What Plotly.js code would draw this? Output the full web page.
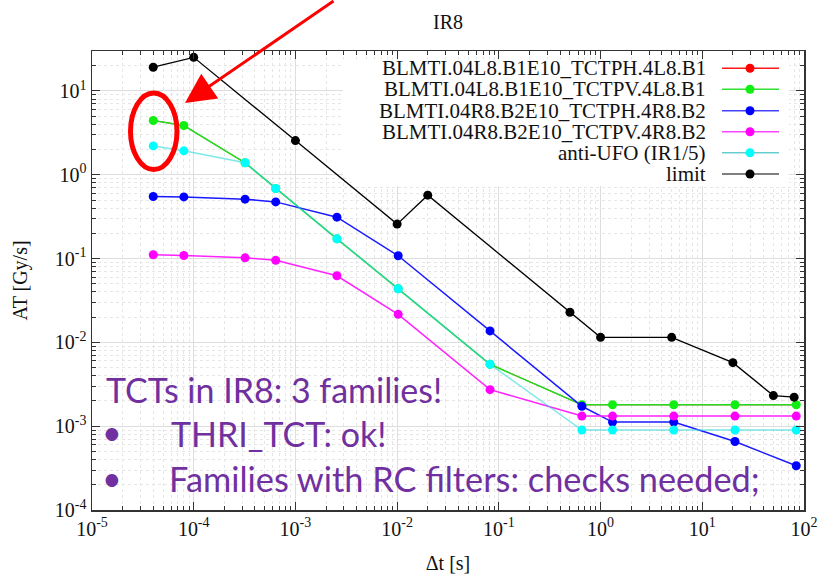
<!DOCTYPE html>
<html>
<head>
<meta charset="utf-8">
<script src="https://cdn.plot.ly/plotly-3.0.1.min.js"></script>
<style>html,body{margin:0;padding:0;background:#fff;}#chart{width:822px;height:574px;}</style>
</head>
<body>
<div id="chart"></div>
<script>
// ---- data ----
const tRS = [4e-5, 8e-5, 3.2e-4, 6.4e-4, 2.56e-3, 1.024e-2, 8.192e-2, 0.65536, 1.31072, 5.24288, 20.97152, 83.88608];
const tctph4L8 = [4.44, 3.87, 1.39, 0.687, 0.172, 0.0436, 0.00548, 0.0018, 0.0018, 0.0018, 0.0018, 0.0018];
const tctpv4L8 = [4.44, 3.87, 1.39, 0.687, 0.172, 0.0436, 0.00548, 0.0018, 0.0018, 0.0018, 0.0018, 0.0018];
const tctph4R8 = [0.551, 0.545, 0.512, 0.475, 0.312, 0.108, 0.0137, 0.00173, 0.00112, 0.00112, 0.000656, 0.000337];
const tctpv4R8 = [0.111, 0.109, 0.102, 0.0953, 0.0624, 0.0216, 0.00273, 0.00132, 0.00132, 0.00132, 0.00132, 0.00132];
const antiUFO  = [2.21, 1.93, 1.39, 0.687, 0.172, 0.0436, 0.00548, 0.0009, 0.0009, 0.0009, 0.0009, 0.0009];
const tLimit   = [4e-5, 1e-4, 1e-3, 1e-2, 2e-2, 0.5, 1, 5, 20, 50, 80];
const limitVal = [19.2, 25.2, 2.56, 0.258, 0.571, 0.0229, 0.0115, 0.0115, 0.00573, 0.00232, 0.00222];

const seriesNames = ['BLMTI.04L8.B1E10_TCTPH.4L8.B1','BLMTI.04L8.B1E10_TCTPV.4L8.B1','BLMTI.04R8.B2E10_TCTPH.4R8.B2','BLMTI.04R8.B2E10_TCTPV.4R8.B2','anti-UFO (IR1/5)','limit'];
const xTickVals = [1e-5,1e-4,1e-3,1e-2,1e-1,1e0,1e1,1e2];
const xTickText = ['10<sup>-5</sup>','10<sup>-4</sup>','10<sup>-3</sup>','10<sup>-2</sup>','10<sup>-1</sup>','10<sup>0</sup>','10<sup>1</sup>','10<sup>2</sup>'];
const yTickVals = [1e-4,1e-3,1e-2,1e-1,1e0,1e1];
const yTickText = ['10<sup>-4</sup>','10<sup>-3</sup>','10<sup>-2</sup>','10<sup>-1</sup>','10<sup>0</sup>','10<sup>1</sup>'];
const noteLines = ['TCTs in IR8: 3 families!','THRI_TCT: ok!','Families with RC filters: checks needed;'];

// ---- styles ----
const lineColors   = ['#ff0000','#22dd22','#1a1aff','#ff22ff','rgba(40,215,215,0.6)','#000000'];
const markerColors = ['#ff0000','#11ee11','#0000ff','#ff00ff','#00ffff','#000000'];
const legendLineColors = ['#ff1a1a','#33e033','#4444ff','#ff44ff','#66cccc','#555555'];

function minorVals(lo, hi){ const v=[]; for(let d=lo; d<=hi; d++){ for(let m=2;m<=9;m++){ v.push(m*Math.pow(10,d)); } } return v; }

const ys = [tctph4L8, tctpv4L8, tctph4R8, tctpv4R8, antiUFO];
const traces = ys.map((y,i)=>({
  x: tRS, y: y, type:'scatter', mode:'lines+markers', name: seriesNames[i],
  line:{color: lineColors[i], width: i===0?1:1.5},
  marker:{color: markerColors[i], size: i===0?7:9},
  showlegend:false
}));
traces.push({x:tLimit, y:limitVal, type:'scatter', mode:'lines+markers', name:seriesNames[5],
  line:{color:'#000', width:1.3}, marker:{color:'#000', size:9}, showlegend:false});

const L=92, R=804, T=51, B=510;
const px = v => (v-L)/(R-L);
const py = v => (B-v)/(B-T);

const serif = 'Liberation Serif';
const axisCommon = {
  type:'log', showline:true, linecolor:'#333', linewidth:1.5, mirror:'allticks',
  ticks:'inside', ticklen:8, tickwidth:1, tickcolor:'#333',
  showgrid:true, gridcolor:'#dedede', gridwidth:1, zeroline:false,
  tickfont:{family:serif, size:20, color:'#111'}, tickmode:'array'
};
const minorCommon = {tickmode:'array', ticks:'inside', ticklen:4, tickwidth:1, tickcolor:'#333', showgrid:true, gridcolor:'#e6e6e6', griddash:'dot', gridwidth:1};

const shapes = [];
const annotations = [];
// legend background (covers grid, below the top ticks, clear of the limit line)
const bgPath = 'M ' + px(356) + ',' + py(186) + ' L ' + px(789) + ',' + py(186) + ' L ' + px(789) + ',' + py(59.5) +
               ' L ' + px(343) + ',' + py(59.5) + ' L ' + px(343) + ',' + py(175) + ' Z';
shapes.push({type:'path', xref:'paper', yref:'paper', path:bgPath, fillcolor:'#fff', line:{width:0}, layer:'above'});
const legRows = [68.3, 89.3, 110.7, 131.7, 152.7, 174];
seriesNames.forEach((n,i)=>{
  annotations.push({xref:'paper', yref:'paper', x:px(708), y:py(legRows[i]), xanchor:'right', yanchor:'middle', text:n, showarrow:false, font:{family:serif, size:21, color:'#111'}});
  shapes.push({type:'line', xref:'paper', yref:'paper', x0:px(722), x1:px(779), y0:py(legRows[i]), y1:py(legRows[i]), line:{color:legendLineColors[i], width:1.5}, layer:'above'});
  shapes.push({type:'circle', xref:'paper', yref:'paper', xsizemode:'pixel', ysizemode:'pixel', xanchor:px(750), yanchor:py(legRows[i]), x0:-4.5, x1:4.5, y0:-4.5, y1:4.5, fillcolor:markerColors[i], line:{width:0}, layer:'above'});
});
// red ellipse
shapes.push({type:'circle', xref:'paper', yref:'paper', x0:px(130.5), x1:px(177), y0:py(169.5), y1:py(93), line:{color:'#ff0000', width:5}, layer:'above'});
// red arrow
annotations.push({xref:'paper', yref:'paper', x:px(185), y:py(103), ax:150, ay:-115, axref:'pixel', ayref:'pixel', showarrow:true, arrowhead:2, arrowsize:2, arrowwidth:3, arrowcolor:'#ff0000', text:''});
// purple notes
const purple = '#7030a0';
const noteFont = {family:'Lato', size:34, color:purple};
annotations.push({xref:'paper', yref:'paper', x:px(104), y:py(389), xanchor:'left', yanchor:'middle', text:noteLines[0], showarrow:false, font:noteFont});
annotations.push({xref:'paper', yref:'paper', x:px(112), y:py(432), xanchor:'center', yanchor:'middle', text:'•', showarrow:false, font:noteFont});
annotations.push({xref:'paper', yref:'paper', x:px(169), y:py(433), xanchor:'left', yanchor:'middle', text:noteLines[1], showarrow:false, font:noteFont});
annotations.push({xref:'paper', yref:'paper', x:px(112), y:py(477), xanchor:'center', yanchor:'middle', text:'•', showarrow:false, font:noteFont});
annotations.push({xref:'paper', yref:'paper', x:px(167), y:py(478), xanchor:'left', yanchor:'middle', text:noteLines[2], showarrow:false, font:Object.assign({}, noteFont, {size:34.3})});

const layout = {
  width:822, height:574, margin:{l:L, r:822-R, t:T, b:574-B},
  paper_bgcolor:'#fff', plot_bgcolor:'#fff', showlegend:false,
  title:{text:'IR8', font:{family:serif, size:20, color:'#111'}, x:0.5, xref:'paper', y:1-22/574, yref:'container', yanchor:'middle'},
  xaxis: Object.assign({}, axisCommon, {range:[-5,2], tickvals:xTickVals, ticktext:xTickText,
    minor:Object.assign({}, minorCommon, {tickvals:minorVals(-5,1)}),
    title:{text:'Δt [s]', font:{family:serif, size:20, color:'#111'}, standoff:18}}),
  yaxis: Object.assign({}, axisCommon, {range:[-4, Math.log10(30)], tickvals:yTickVals, ticktext:yTickText,
    minor:Object.assign({}, minorCommon, {tickvals:minorVals(-4,1).filter(v=>v<=30)}),
    title:{text:'AT [Gy/s]', font:{family:serif, size:20, color:'#111'}, standoff:22}}),
  shapes: shapes, annotations: annotations
};
Plotly.newPlot('chart', traces, layout, {displayModeBar:false, staticPlot:true});
</script>
</body>
</html>
